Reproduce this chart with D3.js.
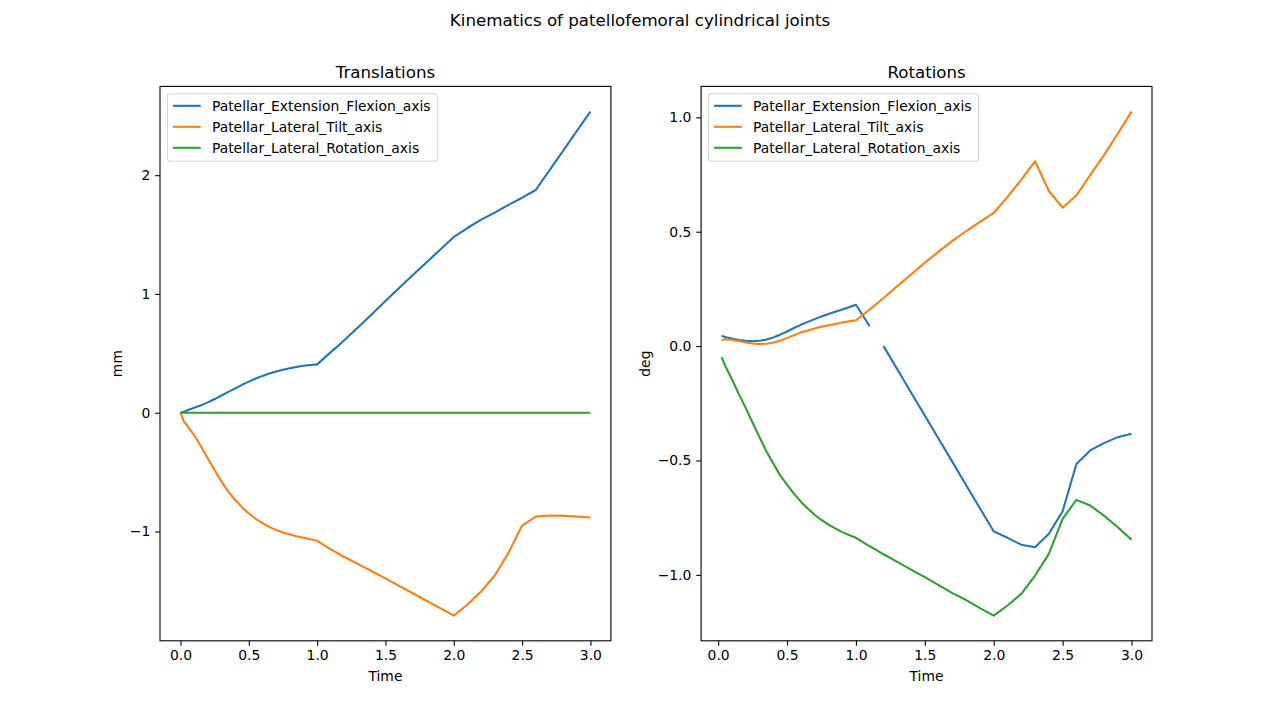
<!DOCTYPE html>
<html>
<head>
<meta charset="utf-8">
<script src="https://cdn.jsdelivr.net/npm/d3@7"></script>
<style>
  body { margin: 0; background: #fff; }
  svg { display: block; font-family: "DejaVu Sans", sans-serif; }
</style>
</head>
<body>
<div id="chart"></div>
<script>
// Time samples (s)
const time = [0, 0.025, 0.05, 0.1, 0.15, 0.2, 0.25, 0.3, 0.35, 0.4, 0.45, 0.5, 0.55, 0.6, 0.65, 0.7, 0.75,
  0.8, 0.85, 0.9, 0.95, 1.0, 1.1, 1.15, 1.2, 1.3, 1.4, 1.5, 1.6, 1.7, 1.8, 1.9, 2.0, 2.1, 2.2, 2.3, 2.4,
  2.5, 2.6, 2.7, 2.8, 2.9, 3.0];

// Translations (mm)
const transFlexion = [0, 0.008, 0.02, 0.042, 0.062, 0.087, 0.115, 0.145, 0.176, 0.205, 0.235, 0.262, 0.288,
  0.31, 0.33, 0.347, 0.362, 0.375, 0.386, 0.395, 0.401, 0.407, 0.51, 0.56, 0.612, 0.72, 0.83, 0.94, 1.05,
  1.16, 1.265, 1.372, 1.48, 1.555, 1.625, 1.685, 1.75, 1.81, 1.875, 2.04, 2.205, 2.37, 2.535];
const transTilt = [0, -0.075, -0.11, -0.19, -0.285, -0.385, -0.485, -0.58, -0.665, -0.735, -0.795, -0.848,
  -0.893, -0.93, -0.962, -0.988, -1.008, -1.025, -1.04, -1.053, -1.065, -1.078, -1.15, -1.183, -1.215,
  -1.275, -1.335, -1.395, -1.458, -1.52, -1.583, -1.645, -1.708, -1.615, -1.505, -1.37, -1.18, -0.95,
  -0.875, -0.865, -0.868, -0.875, -0.882];
const transRotation = time.map(() => 0);

// Rotations (deg); null where no value
const rotFlexion = [null, 0.045, 0.04, 0.033, 0.027, 0.023, 0.021, 0.023, 0.029, 0.038, 0.05, 0.064, 0.079,
  0.093, 0.106, 0.118, 0.129, 0.14, 0.15, 0.16, 0.17, 0.181, 0.087, null, 0.0, -0.101, -0.203, -0.304,
  -0.405, -0.506, -0.608, -0.709, -0.81, -0.838, -0.868, -0.879, -0.82, -0.722, -0.515, -0.456, -0.424,
  -0.398, -0.383];
const rotTilt = [null, 0.027, 0.03, 0.028, 0.022, 0.016, 0.011, 0.009, 0.01, 0.015, 0.024, 0.035, 0.048,
  0.06, 0.068, 0.077, 0.085, 0.091, 0.097, 0.103, 0.108, 0.113, 0.16, 0.185, 0.21, 0.262, 0.313, 0.365,
  0.413, 0.46, 0.503, 0.543, 0.582, 0.652, 0.728, 0.808, 0.678, 0.605, 0.659, 0.747, 0.835, 0.928, 1.025];
const rotRotation = [null, -0.048, -0.085, -0.145, -0.21, -0.27, -0.335, -0.398, -0.46, -0.513, -0.565,
  -0.606, -0.645, -0.68, -0.71, -0.737, -0.76, -0.78, -0.797, -0.813, -0.826, -0.838, -0.875, -0.892,
  -0.91, -0.943, -0.977, -1.01, -1.045, -1.08, -1.11, -1.145, -1.178, -1.134, -1.083, -1.003, -0.908,
  -0.755, -0.672, -0.697, -0.741, -0.792, -0.846];

const seriesNames = ['Patellar_Extension_Flexion_axis', 'Patellar_Lateral_Tilt_axis', 'Patellar_Lateral_Rotation_axis'];
const colors = ['#1f77b4', '#ff7f0e', '#2ca02c'];

const xTicks = [0, 0.5, 1.0, 1.5, 2.0, 2.5, 3.0];
const transYTicks = [-1, 0, 1, 2];
const rotYTicks = [-1.0, -0.5, 0.0, 0.5, 1.0];

const panels = [
  { title: 'Translations', ylabel: 'mm', series: [transFlexion, transTilt, transRotation],
    yTicks: transYTicks, yFmt: d3.format('d'), left: 160, labelX: 122 },
  { title: 'Rotations', ylabel: 'deg', series: [rotFlexion, rotTilt, rotRotation],
    yTicks: rotYTicks, yFmt: d3.format('.1f'), left: 701.1, labelX: 650 }
];

const width = 1280, height = 720;
const axW = 450.9, axTop = 86.4, axBottom = 640.8;
const tickLen = 4.86, tickPad = 4.86;

const svg = d3.select('#chart').append('svg')
  .attr('width', width)
  .attr('height', height);

svg.append('text')
  .attr('x', 640).attr('y', 26)
  .attr('text-anchor', 'middle')
  .attr('font-size', 16.67)
  .text('Kinematics of patellofemoral cylindrical joints');

// matplotlib-like autoscale with 5% margins
function padded(ext) {
  const m = (ext[1] - ext[0]) * 0.05;
  return [ext[0] - m, ext[1] + m];
}

panels.forEach(p => {
  const pts = [];
  p.series.forEach(s => s.forEach((v, i) => { if (v != null) pts.push([time[i], v]); }));
  const x = d3.scaleLinear().domain(padded(d3.extent(pts, d => d[0]))).range([p.left, p.left + axW]);
  const y = d3.scaleLinear().domain(padded(d3.extent(pts, d => d[1]))).range([axBottom, axTop]);

  const g = svg.append('g');

  // lines
  const line = d3.line()
    .defined(d => d[1] != null)
    .x(d => x(d[0]))
    .y(d => y(d[1]));
  p.series.forEach((s, k) => {
    g.append('path')
      .datum(time.map((t, i) => [t, s[i]]))
      .attr('fill', 'none')
      .attr('stroke', colors[k])
      .attr('stroke-width', 2.08)
      .attr('stroke-linejoin', 'round')
      .attr('d', line);
  });

  // frame
  g.append('rect')
    .attr('x', p.left).attr('y', axTop)
    .attr('width', axW).attr('height', axBottom - axTop)
    .attr('fill', 'none').attr('stroke', '#000').attr('stroke-width', 1.1);

  // axes
  const xAxis = g.append('g')
    .attr('transform', `translate(0,${axBottom})`)
    .call(d3.axisBottom(x).tickValues(xTicks).tickFormat(d3.format('.1f'))
      .tickSize(tickLen).tickPadding(tickPad).tickSizeOuter(0));
  const yAxis = g.append('g')
    .attr('transform', `translate(${p.left},0)`)
    .call(d3.axisLeft(y).tickValues(p.yTicks).tickFormat(p.yFmt)
      .tickSize(tickLen).tickPadding(tickPad).tickSizeOuter(0));
  [xAxis, yAxis].forEach(a => {
    a.select('.domain').remove();
    a.selectAll('line').attr('stroke', '#000').attr('stroke-width', 1.1);
    a.selectAll('text').attr('font-size', 13.9).attr('fill', '#000')
      .attr('font-family', '"DejaVu Sans", sans-serif');
  });

  // titles and labels
  g.append('text')
    .attr('x', p.left + axW / 2).attr('y', 78)
    .attr('text-anchor', 'middle').attr('font-size', 16.67)
    .text(p.title);
  g.append('text')
    .attr('x', p.left + axW / 2).attr('y', 681)
    .attr('text-anchor', 'middle').attr('font-size', 13.9)
    .text('Time');
  g.append('text')
    .attr('transform', `translate(${p.labelX},${(axTop + axBottom) / 2}) rotate(-90)`)
    .attr('text-anchor', 'middle').attr('font-size', 13.9)
    .text(p.ylabel);

  // legend
  const lx = p.left + 7.4, ly = axTop + 7.4;
  const lg = g.append('g');
  lg.append('rect')
    .attr('x', lx).attr('y', ly)
    .attr('width', 270).attr('height', 67.5)
    .attr('rx', 2.8)
    .attr('fill', 'rgba(255,255,255,0.8)')
    .attr('stroke', 'rgba(204,204,204,0.8)')
    .attr('stroke-width', 1.1);
  seriesNames.forEach((name, k) => {
    const ry = ly + 12 + k * 21;
    lg.append('line')
      .attr('x1', lx + 5.5).attr('x2', lx + 33.3)
      .attr('y1', ry).attr('y2', ry)
      .attr('stroke', colors[k]).attr('stroke-width', 2.08);
    lg.append('text')
      .attr('x', lx + 44.5).attr('y', ry)
      .attr('dy', '0.36em')
      .attr('font-size', 13.9)
      .text(name);
  });
});
</script>
</body>
</html>
